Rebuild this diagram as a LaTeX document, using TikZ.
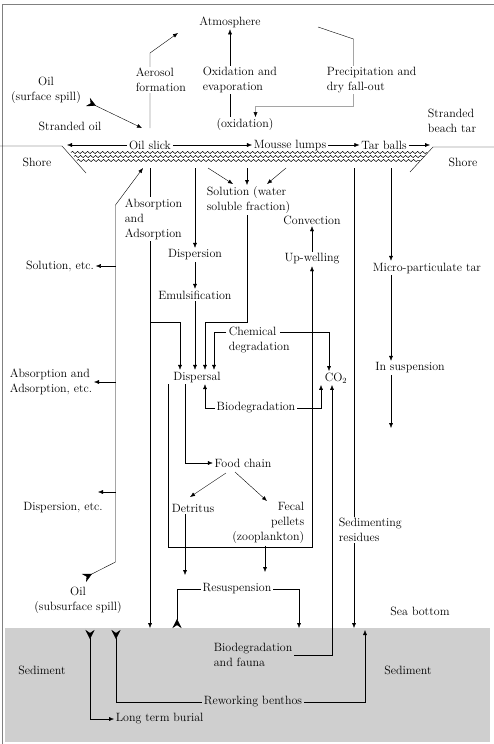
\documentclass[tikz,border=0pt]{standalone}
\usepackage{amsmath}
\usetikzlibrary{arrows.meta,backgrounds,decorations.pathmorphing}

\begin{document}
\begin{tikzpicture}[x=1pt,y=-1pt,line width=0.7pt,
  lbl/.style={inner sep=1.5pt,font=\fontsize{12}{15}\selectfont},
  onln/.style={lbl,fill=white},
  flow/.style={-{Latex[length=5pt,width=4pt]}},
  src/.style={{Stealth[reversed,length=9pt,width=9pt,inset=3pt]}-},
  srcflow/.style={{Stealth[reversed,length=9pt,width=9pt,inset=3pt]}-{Latex[length=5pt,width=4pt]}},
  waves/.style={line width=0.5pt,decorate,decoration={snake,amplitude=1.1pt,segment length=5pt}}]
\useasboundingbox (0,0) rectangle (494,744);

% air and surface
\node[lbl] (atm) at (230,22) {Atmosphere};
\node[onln,align=left,anchor=west] (aero) at (134,80) {Aerosol\\formation};
\node[onln,align=left,anchor=west] (oxev) at (201,80) {Oxidation and\\evaporation};
\node[lbl] (oxid) at (245,125) {(oxidation)};
\node[onln,align=left,anchor=west] (precip) at (325,80) {Precipitation and\\dry fall-out};
\node[lbl,align=center] (oilsurf) at (46,90) {Oil\\(surface spill)};
\node[lbl] (strand) at (70,126) {Stranded oil};
\node[lbl] (slick) at (150,145) {Oil slick};
\node[lbl] (mousse) at (290,145) {Mousse lumps};
\node[lbl] (tar) at (384,145) {Tar balls};
\node[lbl,align=left,anchor=west] (beach) at (426,121) {Stranded\\beach tar};
\node[lbl] (shoreL) at (37,162) {Shore};
\node[lbl] (shoreR) at (463,162) {Shore};

% water column
\node[onln,align=left,anchor=west] (absorb) at (123,219) {Absorption\\and\\Adsorption};
\node[lbl,align=left,anchor=west] (solution) at (205,200) {Solution (water\\soluble fraction)};
\node[lbl] (disp) at (195,255) {Dispersion};
\node[lbl] (emul) at (195,295) {Emulsification};
\node[lbl,align=left,anchor=west] (chem) at (227,340) {Chemical\\degradation};
\node[lbl] (convec) at (312,220) {Convection};
\node[lbl] (upwell) at (312,259) {Up-welling};
\node[lbl] (micro) at (427,268) {Micro-particulate tar};
\node[lbl] (insusp) at (410,368) {In suspension};
\node[lbl] (dispersal) at (197,377) {Dispersal};
\node[lbl] (co2) at (336,378) {CO$_2$};
\node[lbl] (biodeg) at (256,408) {Biodegradation};
\node[lbl] (food) at (243,463) {Food chain};
\node[lbl] (detritus) at (193,508) {Detritus};
\node[lbl,align=right,anchor=east] (fecal) at (306,523) {Fecal\\pellets\\(zooplankton)};
\node[onln,align=left,anchor=west] (sedres) at (337,530) {Sedimenting\\residues};
\node[lbl] (resusp) at (237,589) {Resuspension};
\node[lbl] (seabot) at (420,611) {Sea bottom};
\node[lbl] (solL) at (60,266) {Solution, etc.};
\node[lbl,align=left] (absL) at (51,382) {Absorption and\\Adsorption, etc.};
\node[lbl] (dispL) at (63,508) {Dispersion, etc.};
\node[lbl,align=center] (oilsub) at (78,600) {Oil\\(subsurface spill)};

% sediment
\node[lbl] (sedL) at (42,670) {Sediment};
\node[lbl] (sedR) at (408,670) {Sediment};
\node[lbl,align=left,anchor=west] (biofauna) at (212,655) {Biodegradation\\and fauna};
\node[lbl] (rework) at (253,702) {Reworking benthos};
\node[lbl,anchor=west] (burial) at (114,719) {Long term burial};

\begin{scope}[on background layer]
\fill[black!19] (5,628) rectangle (490,742);
\draw[gray] (494,4) -- (2,4) -- (2,744);
\draw (0,146) -- (62,146) -- (86,173);
\draw (410,172) -- (433,147) -- (494,147);
\draw[waves] (71,152.5) -- (427,152.5);
\draw[waves] (74,156.5) -- (424,156.5);
\draw[waves] (77,160.5) -- (420,160.5);

% to the atmosphere
\draw[flow] (150,128) -- (150,53) -- (178,33);
\draw[flow] (atm.south |- oxid.north) -- (atm.south);
\draw[flow] (318,27) -- (353.5,39) -- (353.5,106.5) -| (255.5,0 |- oxid.north);

% on the surface
\draw[srcflow] (88,102) -- (142,128);
\draw[flow] (slick.west) -- (67,0 |- slick.west);
\draw[flow] (slick) -- (mousse);
\draw[flow] (mousse) -- (tar);
\draw[flow] (tar.east) -- (430,0 |- tar.east);

% down from the slick
\draw[flow] (150,168) -- (150,628);
\draw[flow] (150,322) -| (180,0 |- dispersal.north);
\draw[flow] (disp |- 0,168) -- (disp);
\draw[flow] (disp) -- (emul);
\draw[flow] (emul) -- (emul |- dispersal.north);
\draw[flow] (208,168) -- (233,184);
\draw[flow] (247,168) -- (247,185);
\draw[flow] (286,168) -- (267,184);
\draw[flow] (247,0 |- solution.south) -- (247,322) -| (205,0 |- dispersal.north);
\draw[flow] (226,332) -| (214,0 |- dispersal.north);
\draw[flow] (280,332) -| (329,0 |- co2.north);
\draw[flow] (biodeg.west) -| (205,0 |- dispersal.south);
\draw[flow] (biodeg.east) -| (321,0 |- co2.south);
\draw[flow] (biofauna.east) -| (332,0 |- co2.south);
\draw[flow] (185,0 |- dispersal.south) |- (food.west);
\draw[flow] (168,0 |- dispersal.south) -- (168,547) -| (upwell.south);
\draw[flow] (upwell) -- (convec);
\draw[flow] (226,473) -- (190,497);
\draw[flow] (235,472) -- (267,501);
\draw[flow] (185,0 |- detritus.south) -- (185,575);
\draw[flow] (265,0 |- fecal.south) -- (265,572);
\draw[src] (177,628) |- (resusp.west);
\draw[flow] (resusp.east) -| (299,628);
\draw[flow] (354,168) -- (354,628);
\draw[flow] (391,168) -- (391,0 |- micro.north);
\draw[flow] (391,0 |- micro.south) -- (391,0 |- insusp.north);
\draw[flow] (391,0 |- insusp.south) -- (391,428);

% subsurface spill
\draw[srcflow] (84,578) -- (115.5,562) -- (115.5,205) -- (143,168);
\draw[flow] (115.5,266) -- (solL);
\draw[flow] (115.5,382) -- (absL);
\draw[flow] (115.5,492) -- (98,492);

% in the sediment
\draw[src] (116,630) |- (rework.west);
\draw[flow] (rework.east) -| (365,630);
\draw[srcflow] (90,630) |- (burial.west);
\end{scope}
\end{tikzpicture}
\end{document}
